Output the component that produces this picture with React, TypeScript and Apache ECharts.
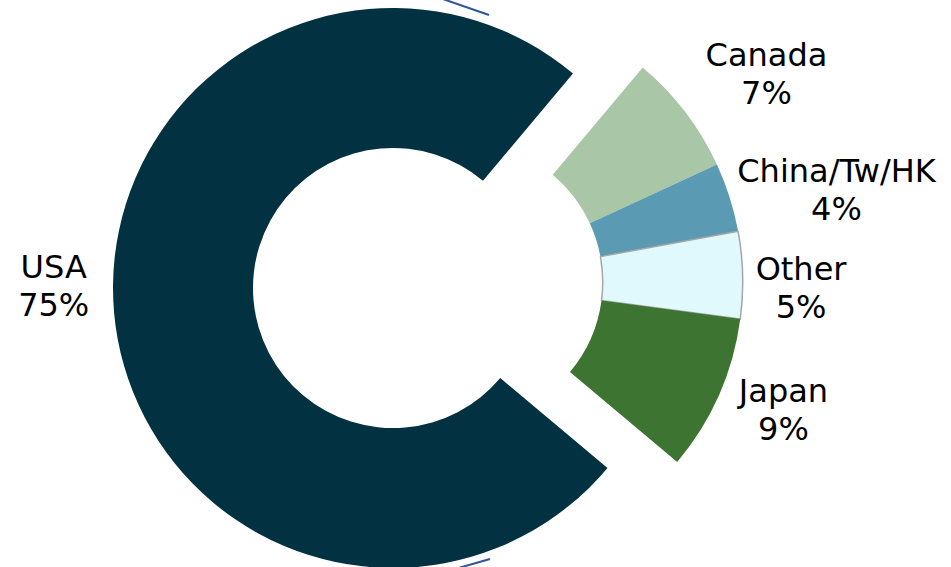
import React, { useEffect, useRef } from "react";
import * as echarts from "echarts";

// ---- data ----
const categories = ["Canada", "China/Tw/HK", "Other", "Japan", "USA"];
const values = [7, 4, 5, 9, 75];
const colors = ["#a9c6a7", "#5b9ab3", "#e0f9fd", "#3e7432", "#023141"];
const explodedGroup = [true, true, true, true, false];

// ---- layout ----
const W = 951;
const H = 567;
const baseCenter = [393, 288];
const innerR = 140;
const outerR = 280;
const startAngle = 50;
const explodeDist = 70;
const labelGap = 15;
const labelNudge = [
  [21, -6],
  [-2, 9],
  [-2, 14],
  [10, -6],
  [-10, -31],
];

const total = values.reduce((a, b) => a + b, 0);
// bisector angles (degrees, math convention) for each slice, clockwise from startAngle
const bisectors: number[] = [];
{
  let acc = startAngle;
  values.forEach((v) => {
    const span = (v / total) * 360;
    bisectors.push(acc - span / 2);
    acc -= span;
  });
}
// exploded group center
const groupSpan = values.reduce((s, v, i) => (explodedGroup[i] ? s + v : s), 0) / total * 360;
const groupBis = ((startAngle - groupSpan / 2) * Math.PI) / 180;
const explodedCenter = [
  baseCenter[0] + explodeDist * Math.cos(groupBis),
  baseCenter[1] - explodeDist * Math.sin(groupBis),
];

const makeData = (inGroup: boolean) =>
  categories.map((name, i) => {
    const visible = explodedGroup[i] === inGroup;
    return {
      name,
      value: values[i],
      itemStyle: visible
        ? {
            color: colors[i],
            borderColor: name === "Other" ? "#a6a6a6" : colors[i],
            borderWidth: name === "Other" ? 1.5 : 0,
          }
        : { color: "transparent", borderWidth: 0 },
      label: { show: visible },
    };
  });

export default function App() {
  const ref = useRef<HTMLDivElement>(null);
  useEffect(() => {
    if (!ref.current) return;
    const chart = echarts.init(ref.current, undefined, { renderer: "svg" });
    const centers = [explodedCenter, baseCenter];
    const labelLayout = (p: any) => {
      const i = p.dataIndex;
      const c = centers[p.seriesIndex];
      const th = (bisectors[i] * Math.PI) / 180;
      const cos = Math.cos(th);
      const sin = Math.sin(th);
      const w = p.labelRect.width;
      const h = p.labelRect.height;
      const d = outerR + labelGap;
      const x = c[0] + d * cos + (w / 2) * cos + labelNudge[i][0];
      const y = c[1] - d * sin - (h / 2) * sin + labelNudge[i][1];
      return { x, y, align: "center", verticalAlign: "middle" };
    };
    const seriesCommon = {
      type: "pie",
      radius: [innerR, outerR],
      startAngle,
      clockwise: true,
      avoidLabelOverlap: false,
      silent: true,
      emphasis: { disabled: true },
      labelLine: { show: false },
      label: {
        position: "outside",
        formatter: (p: any) => `${p.name}\n${p.value}%`,
        fontFamily: "DejaVu Sans",
        fontSize: 32,
        lineHeight: 38,
        color: "#000000",
      },
      labelLayout,
    };
    chart.setOption({
      animation: false,
      backgroundColor: "#ffffff",
      series: [
        { ...seriesCommon, center: explodedCenter, data: makeData(true) },
        { ...seriesCommon, center: baseCenter, data: makeData(false) },
      ],
      graphic: [
        {
          type: "line",
          shape: { x1: 440, y1: -2, x2: 489, y2: 15 },
          style: { stroke: "#2f5597", lineWidth: 2 },
        },
        {
          type: "line",
          shape: { x1: 455, y1: 569, x2: 490, y2: 559 },
          style: { stroke: "#2f5597", lineWidth: 2 },
        },
      ],
    });
    return () => chart.dispose();
  }, []);
  return (
    <div
      ref={ref}
      style={{ position: "fixed", left: 0, top: 0, width: W, height: H }}
    />
  );
}
